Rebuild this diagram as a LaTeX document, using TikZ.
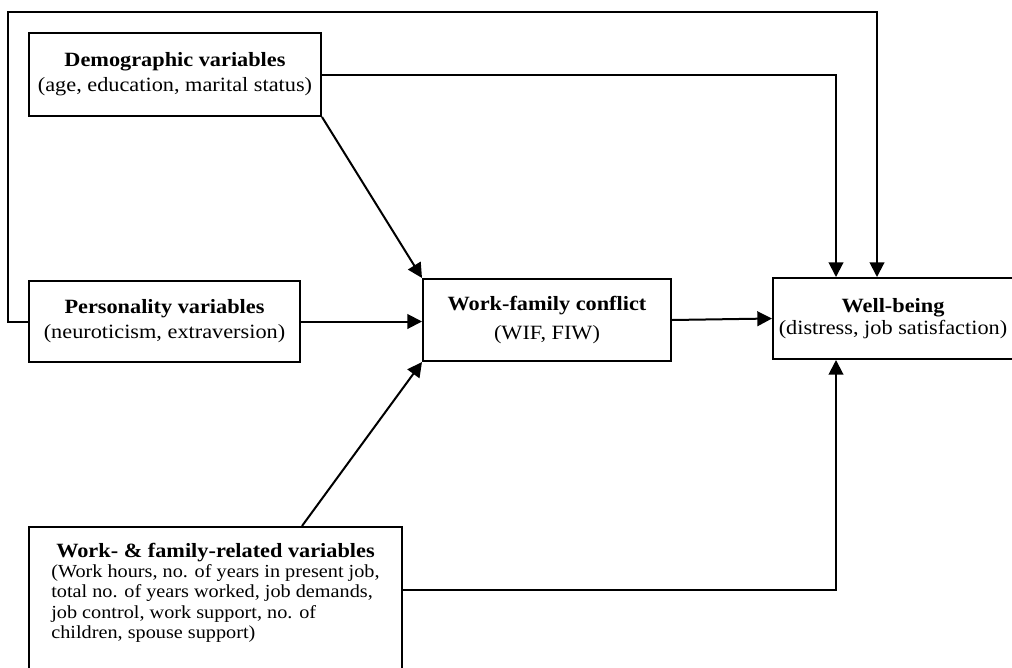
\documentclass[tikz,border=0pt]{standalone}
\usepackage{fontspec}
\setmainfont{Liberation Serif}[FakeStretch=1.1]
\usetikzlibrary{arrows.meta}
\usetikzlibrary{calc}

\begin{document}
\begin{tikzpicture}[x=0.75pt,y=-0.75pt]
\tikzstyle{box} = [draw, line width=1.5pt, align=center, inner sep=0pt, font=\fontsize{15.2}{14.6}\selectfont]
\tikzstyle{arr} = [line width=1.5pt, -{Triangle[length=11pt,width=11pt]}]
\clip (0,0) rectangle (1012,667);
\node[box, minimum width=219pt, minimum height=62.25pt](dem) at (175,74.5){\textbf{Demographic variables}\\[4pt](age, education, marital status)};
\node[box, minimum width=203.25pt, minimum height=60.75pt](pers) at (164.5,321.5){\textbf{Personality variables}\\[4pt](neuroticism, extraversion)};
\node[box, minimum width=186pt, minimum height=61.5pt](wfc) at (547,320){\textbf{Work-family conflict}\\[7pt](WIF, FIW)};
\node[box, minimum width=180pt, minimum height=60.75pt](wb) at (893,318.5){\textbf{Well-being}\\[2pt](distress, job satisfaction)};
\node[box, anchor=north, minimum width=279.75pt, inner ysep=12pt](wrk) at (215.5,526){%
\def\arraystretch{1.04}%
\begin{tabular}{@{}l@{}}
\multicolumn{1}{@{}c@{}}{\textbf{Work- \& family-related variables}}\\
\fontsize{13.8}{14.6}\selectfont (Work hours, no. of years in present job,\\
\fontsize{13.8}{14.6}\selectfont total no. of years worked, job demands,\\
\fontsize{13.8}{14.6}\selectfont job control, work support, no. of\\
\fontsize{13.8}{14.6}\selectfont children, spouse support)\\[24pt]
\end{tabular}};

\coordinate (lp) at (8,12);
\coordinate (wa) at (302,526);
\coordinate (we) at ($(wrk.north east)+(0,64)$);

\draw[arr] (dem.east) -| ($(wb.north west)+(64,0)$);
\draw[arr] (pers.west) -| (lp) -| ($(wb.north west)+(105,0)$);
\draw[arr] (dem.south east) -- (wfc.north west);
\draw[arr] (pers.east) -- (pers.east -| wfc.west);
\draw[arr] (wa) -- (wfc.south west);
\draw[arr] (wfc.east) -- (wb.west);
\draw[arr] (we) -| ($(wb.south west)+(64,0)$);
\end{tikzpicture}
\end{document}
